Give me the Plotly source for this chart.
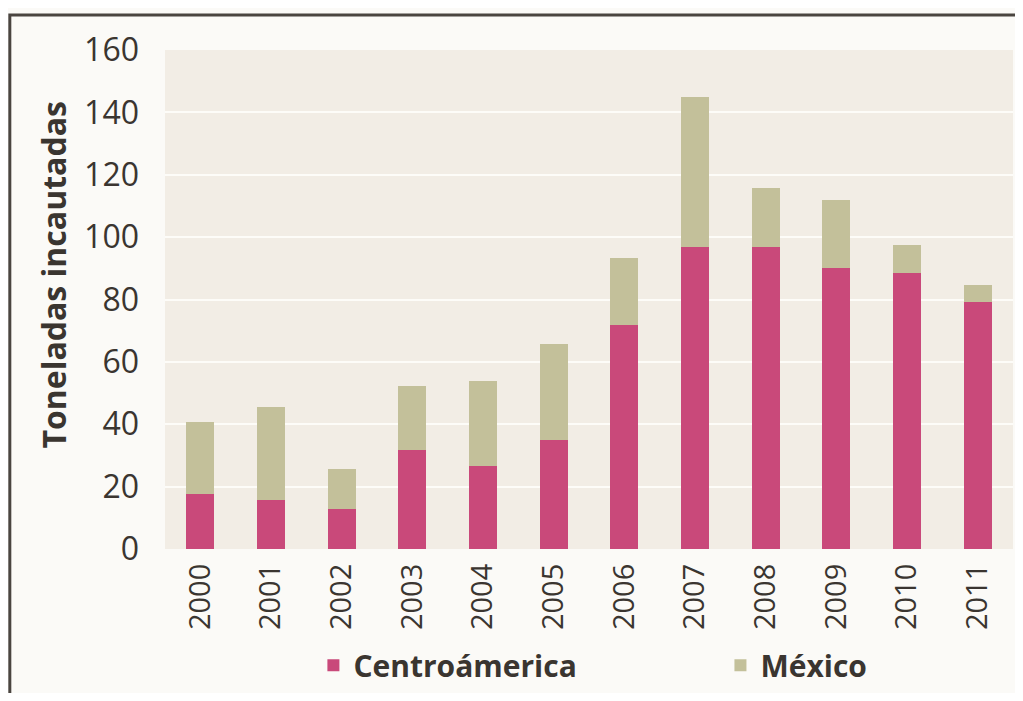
import plotly.graph_objects as go

years = ["2000", "2001", "2002", "2003", "2004", "2005",
         "2006", "2007", "2008", "2009", "2010", "2011"]
centroamerica = [17.7, 15.8, 12.8, 31.7, 26.7, 34.9, 71.7, 96.7, 96.7, 90.0, 88.5, 79.1]
totales = [40.6, 45.6, 25.7, 52.3, 53.9, 65.6, 93.2, 145.0, 115.6, 111.8, 97.4, 84.8]
mexico = [round(t - c, 1) for t, c in zip(totales, centroamerica)]
y_ticks = [0, 20, 40, 60, 80, 100, 120, 140, 160]

FONT = "Open Sans"
TXT = "#3a3530"

fig = go.Figure()
fig.add_trace(go.Bar(x=years, y=centroamerica, name="Centroámerica", legend="legend",
                     marker=dict(color="#c9497a", line=dict(width=0))))
fig.add_trace(go.Bar(x=years, y=mexico, name="México", legend="legend2",
                     marker=dict(color="#c3c09a", line=dict(width=0))))

leg_font = dict(size=30, family=FONT, color=TXT, weight="bold")

fig.update_layout(
    width=1007, height=685,
    barmode="stack", bargap=0.6,
    paper_bgcolor="#fbfaf7",
    plot_bgcolor="#f2ede5",
    margin=dict(l=157, r=2, t=42, b=142),
    font=dict(family=FONT, color=TXT),
    showlegend=True,
    legend=dict(orientation="h", x=0.175, y=-0.233, xanchor="left", yanchor="middle",
                font=leg_font, bgcolor="rgba(0,0,0,0)"),
    legend2=dict(orientation="h", x=0.655, y=-0.233, xanchor="left", yanchor="middle",
                 font=leg_font, bgcolor="rgba(0,0,0,0)"),
    xaxis=dict(tickangle=-90, tickfont=dict(size=29, color=TXT),
               showgrid=False, ticks="", showline=False, ticklabelstandoff=8),
    yaxis=dict(range=[0, 160], tickvals=y_ticks, tickfont=dict(size=32, color=TXT),
               showgrid=True, gridcolor="#fdfcf8", gridwidth=2,
               zeroline=False, ticks="", showline=False, ticklabelstandoff=25),
    annotations=[dict(text="<b>Toneladas incautadas</b>", textangle=-90,
                      xref="paper", yref="paper", x=-0.132, y=0.548,
                      xanchor="center", yanchor="middle", showarrow=False,
                      font=dict(size=32, family=FONT, color=TXT))],
    shapes=[dict(type="path", xref="paper", yref="paper",
                 path="M -0.183 -0.4 L -0.183 1.07 L 1.02 1.07",
                 line=dict(color="#4a4540", width=3))],
)

fig.write_html("out.html")
